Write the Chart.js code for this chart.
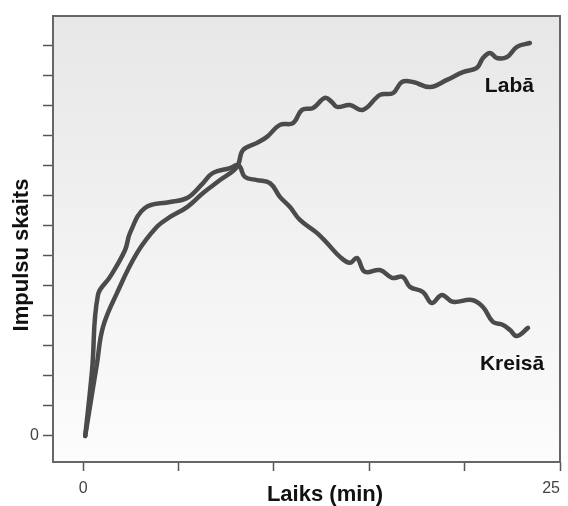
<!DOCTYPE html>
<html>
<head>
<meta charset="utf-8">
<style>
  html, body { margin: 0; padding: 0; background: #fff; }
  canvas { display: block; }
</style>
<script src="https://cdn.jsdelivr.net/npm/chart.js@4/dist/chart.umd.min.js"></script>
</head>
<body>
<canvas id="chart" width="568" height="506"></canvas>
<script>
// Laiks (min) un impulsu skaits katrai pusei
const labaX = [0.1, 0.72, 1.03, 1.77, 2.82, 3.86, 4.55, 5.44, 6.28, 7.17, 8.06, 8.37, 9.11, 9.63, 10.31, 11.0, 11.47, 12.05, 12.67, 13.04, 13.3, 13.98, 14.67, 15.56, 16.24, 16.71, 17.29, 18.18, 19.07, 19.91, 20.64, 20.96, 21.33, 21.69, 22.22, 22.74, 23.42];
const labaY = [0, 2.43, 3.63, 4.77, 6.1, 6.97, 7.3, 7.63, 8.1, 8.53, 8.97, 9.53, 9.77, 9.97, 10.37, 10.43, 10.87, 10.93, 11.27, 11.13, 10.97, 11.03, 10.87, 11.37, 11.43, 11.8, 11.8, 11.63, 11.87, 12.13, 12.27, 12.6, 12.77, 12.6, 12.63, 12.97, 13.1];

const kreisaX = [0.1, 0.46, 0.77, 1.4, 2.19, 2.45, 3.23, 4.55, 5.44, 6.28, 6.8, 7.69, 8.06, 8.22, 8.48, 9.11, 9.79, 10.31, 10.84, 11.36, 12.25, 12.78, 13.46, 13.98, 14.35, 14.77, 15.56, 16.19, 16.76, 17.13, 17.81, 18.28, 18.8, 19.38, 20.38, 20.96, 21.48, 22.01, 22.38, 22.74, 23.32];
const kreisaY = [0, 2.2, 4.7, 5.3, 6.2, 6.77, 7.6, 7.8, 7.93, 8.43, 8.77, 8.93, 9.03, 8.97, 8.63, 8.53, 8.43, 7.97, 7.63, 7.2, 6.77, 6.43, 5.97, 5.77, 5.93, 5.47, 5.53, 5.27, 5.3, 4.97, 4.8, 4.43, 4.7, 4.47, 4.53, 4.3, 3.8, 3.7, 3.53, 3.33, 3.6];

const xTicks = [0, 5, 10, 15, 20, 25];
const yTicks = [0, 1, 2, 3, 4, 5, 6, 7, 8, 9, 10, 11, 12, 13];
const seriesNames = ['Labā', 'Kreisā'];
const nameAt = [{ x: 21.06, y: 11.47 }, { x: 20.8, y: 2.2 }];

const xMin = -1.59, xMax = 25;
const yMin = -0.87, yMax = 14;

const FONT = "'Liberation Sans', Arial, sans-serif";
const LINE = '#4b4b4b';

const toPoints = (xs, ys) => xs.map((x, i) => ({ x, y: ys[i] }));

// fons ar gradientu un rāmis ap zīmēšanas laukumu
const frame = {
  id: 'frame',
  beforeDatasetsDraw(chart) {
    const { ctx, chartArea: a } = chart;
    ctx.save();
    const g = ctx.createLinearGradient(0, a.top, 0, a.bottom);
    g.addColorStop(0, '#e7e7e7');
    g.addColorStop(1, '#fcfcfc');
    ctx.fillStyle = g;
    ctx.fillRect(a.left, a.top, a.right - a.left, a.bottom - a.top);
    ctx.restore();
  },
  afterDraw(chart) {
    const { ctx, chartArea: a } = chart;
    ctx.save();
    ctx.strokeStyle = '#666';
    ctx.lineWidth = 2;
    ctx.strokeRect(a.left, a.top, a.right - a.left, a.bottom - a.top);
    ctx.restore();
  }
};

// asu nosaukumi un līkņu nosaukumi
const captions = {
  id: 'captions',
  afterDraw(chart) {
    const { ctx } = chart;
    const xs = chart.scales.x, ys = chart.scales.y;
    ctx.save();
    ctx.fillStyle = '#111';
    ctx.font = 'bold 22px ' + FONT;
    ctx.textBaseline = 'alphabetic';
    ctx.textAlign = 'center';
    ctx.fillText('Laiks (min)', 325, 501);
    ctx.save();
    ctx.translate(28, 255);
    ctx.rotate(-Math.PI / 2);
    ctx.fillText('Impulsu skaits', 0, 0);
    ctx.restore();
    ctx.font = 'bold 21px ' + FONT;
    ctx.textAlign = 'left';
    seriesNames.forEach((name, i) => {
      ctx.fillText(name, xs.getPixelForValue(nameAt[i].x), ys.getPixelForValue(nameAt[i].y));
    });
    ctx.restore();
  }
};

const lineStyle = {
  borderColor: LINE,
  borderWidth: 4.5,
  pointRadius: 0,
  tension: 0.4,
  fill: false,
  borderCapStyle: 'round',
  borderJoinStyle: 'round'
};

new Chart(document.getElementById('chart').getContext('2d'), {
  type: 'line',
  data: {
    datasets: [
      { label: seriesNames[0], data: toPoints(labaX, labaY), ...lineStyle },
      { label: seriesNames[1], data: toPoints(kreisaX, kreisaY), ...lineStyle }
    ]
  },
  options: {
    responsive: false,
    animation: false,
    layout: { padding: { top: 16, right: 8, left: 0, bottom: 0 } },
    plugins: { legend: { display: false }, tooltip: { enabled: false } },
    scales: {
      x: {
        type: 'linear',
        min: xMin,
        max: xMax,
        afterFit(scale) { scale.height = 44; },
        afterBuildTicks(scale) { scale.ticks = [xMin, ...xTicks].map(v => ({ value: v })); },
        border: { display: false },
        grid: {
          drawOnChartArea: false,
          drawTicks: true,
          tickLength: 9,
          tickWidth: 1.5,
          tickColor: ctx => (ctx.tick && xTicks.includes(ctx.tick.value)) ? '#555' : 'rgba(0,0,0,0)'
        },
        ticks: {
          align: 'inner',
          padding: 8,
          maxRotation: 0,
          autoSkip: false,
          color: '#444',
          font: { family: FONT, size: 16 },
          callback: v => (v === 0 || v === 25) ? String(v) : ''
        }
      },
      y: {
        type: 'linear',
        min: yMin,
        max: yMax,
        afterFit(scale) { scale.width = 53; },
        afterBuildTicks(scale) { scale.ticks = yTicks.map(v => ({ value: v })); },
        border: { display: false },
        grid: {
          drawOnChartArea: false,
          drawTicks: true,
          tickLength: 10,
          tickWidth: 1.5,
          tickColor: '#555'
        },
        ticks: {
          padding: 4,
          autoSkip: false,
          color: '#444',
          font: { family: FONT, size: 16 },
          callback: v => v === 0 ? '0' : ''
        }
      }
    }
  },
  plugins: [frame, captions]
});
</script>
</body>
</html>
